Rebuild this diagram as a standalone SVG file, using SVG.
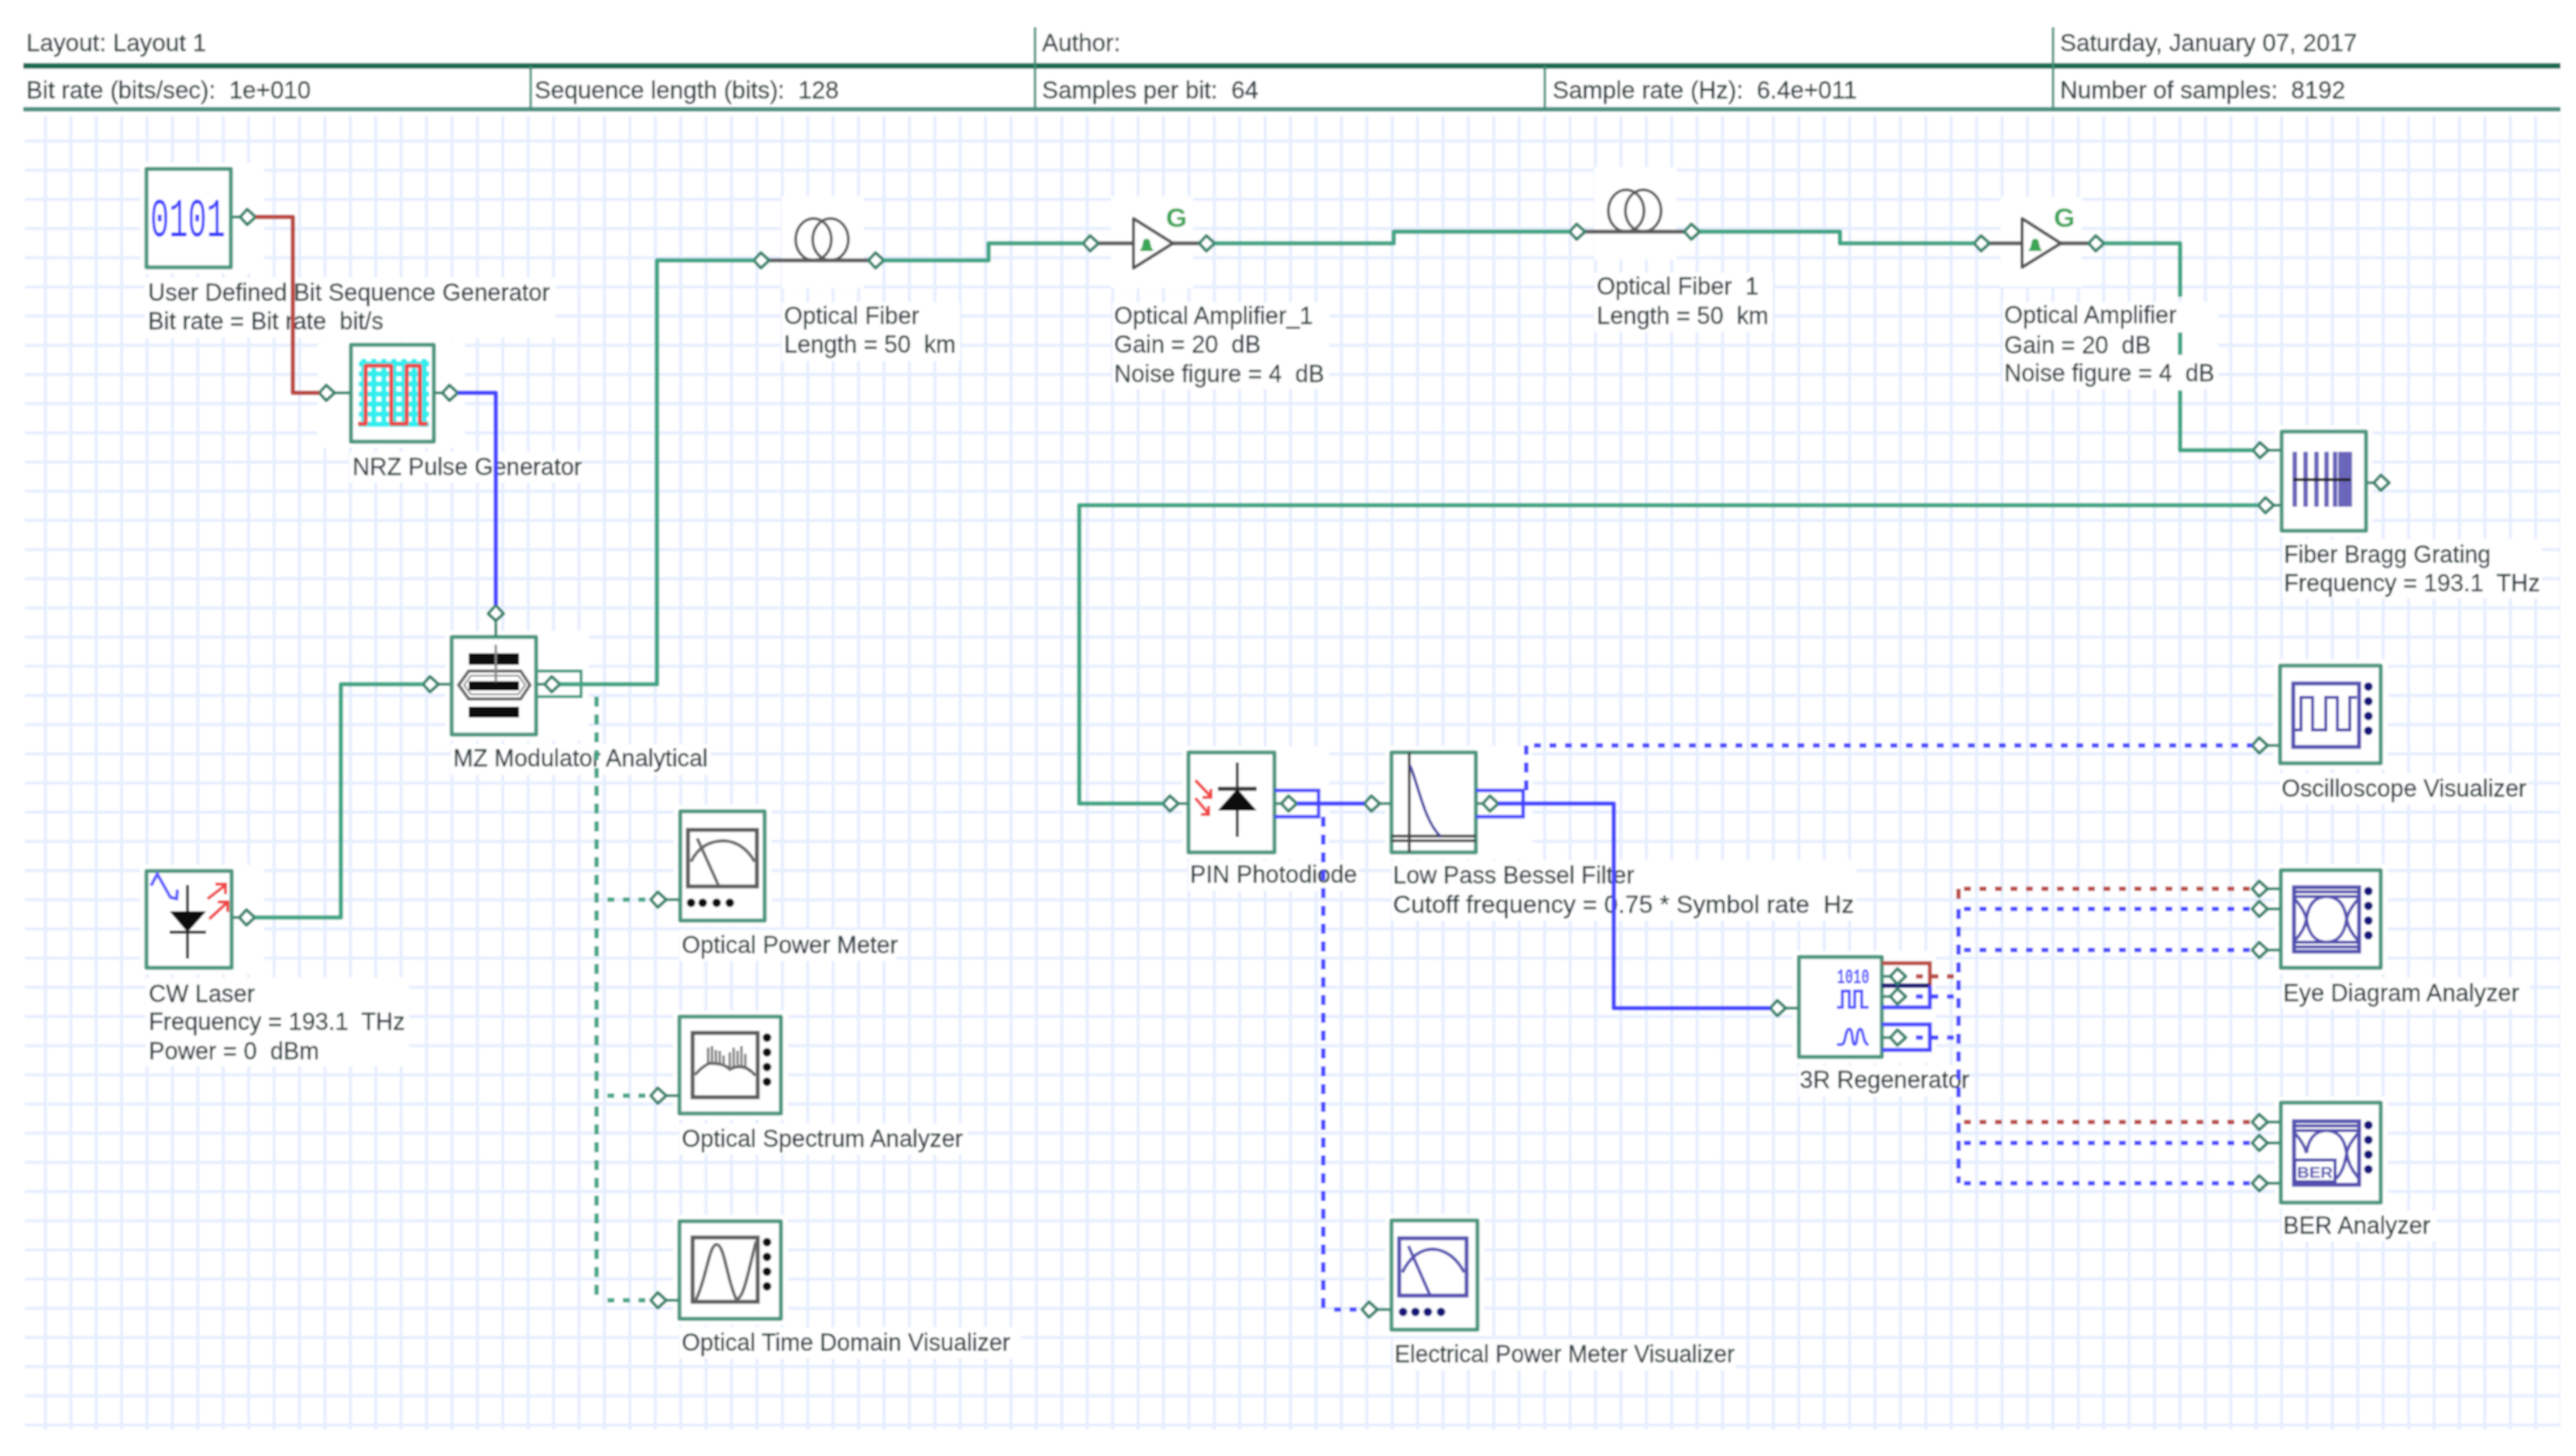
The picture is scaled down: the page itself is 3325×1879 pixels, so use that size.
<svg xmlns="http://www.w3.org/2000/svg" width="3325" height="1879" viewBox="0 0 3325 1879">
<style>
text{font-family:"Liberation Sans",Arial,sans-serif;font-size:30.8px;fill:#2c3a3c;stroke:#2c3a3c;stroke-width:.35;white-space:pre}
.h{font-size:31.4px}
.box{fill:#fff;stroke:#4a957f;stroke-width:5;stroke-linejoin:round}
.mask{fill:#fff}
.stub{stroke:#3f8f77;stroke-width:4;fill:none}
.w{fill:none;stroke-width:5.5;stroke-linejoin:round}
.g{stroke:#3fa585}.b{stroke:#4646ff}.r{stroke:#b94a45}
.dh{stroke-dasharray:9 11}.dv{stroke-dasharray:13 10}
.port{fill:#fff;stroke:#35836a;stroke-width:4;stroke-linejoin:round}
.scr{fill:#fff;stroke:#5a5a5a;stroke-width:5}
.blu{fill:#fff;stroke:#5250b0;stroke-width:5}
.gl{fill:none;stroke:#666;stroke-width:4}
.bl{fill:none;stroke:#5250b0;stroke-width:4}
.loop{fill:none;stroke:#555;stroke-width:3.5}
.bar{stroke:#5c5c5c;stroke-width:5}
.amp{fill:#fff;stroke:#555;stroke-width:4;stroke-linejoin:round}
.G{fill:#3aa655;stroke:none;font-size:35px;font-weight:bold}
</style>
<defs>
<filter id="soft" x="0" y="0" width="100%" height="100%"><feGaussianBlur stdDeviation="0.9"/></filter>
<pattern id="grid" patternUnits="userSpaceOnUse" x="810" y="179" width="32.8" height="37.66">
<path d="M3 0V37.66M0 3H32.8" stroke="#e6eeff" stroke-width="4" fill="none"/>
</pattern>
<pattern id="cy" patternUnits="userSpaceOnUse" x="463" y="463" width="13" height="13">
<path d="M6.5 0V13M0 6.5H13" stroke="#33eeee" stroke-width="6.5"/>
</pattern>
<polygon id="p" class="port" points="-10,0 -1,-10 10,0 -1,10"/>
<g id="dv4k"><circle cx="0" cy="0" r="5.5"/><circle cx="0" cy="19" r="5.5"/><circle cx="0" cy="38" r="5.5"/><circle cx="0" cy="57" r="5.5"/></g>
<g id="bump"><path d="M-9 8H9L6 3 4-6Q0-10-4-6L-6 3Z" fill="#3aa655"/></g>
</defs>
<g filter="url(#soft)">
<rect id="paper" width="3325" height="1879" fill="#fff"/>
<rect id="background-grid" x="32" y="150" width="3273" height="1695" fill="url(#grid)"/>

<g id="header">
<path d="M30 85H3305" stroke="#15694f" stroke-width="7"/>
<path d="M30 141H3305" stroke="#4f9484" stroke-width="6"/>
<path d="M1336 35V141M2650 35V141M685 85V141M1994 85V141" stroke="#3f8f77" stroke-width="3"/>
<text class="h" x="34" y="66">Layout: Layout 1</text>
<text class="h" x="1345" y="66">Author:</text>
<text class="h" x="2659" y="66">Saturday, January 07, 2017</text>
<text class="h" x="34" y="127">Bit rate (bits/sec):  1e+010</text>
<text class="h" x="690" y="127">Sequence length (bits):  128</text>
<text class="h" x="1345" y="127">Samples per bit:  64</text>
<text class="h" x="2004" y="127">Sample rate (Hz):  6.4e+011</text>
<text class="h" x="2659" y="127">Number of samples:  8192</text>
</g>

<g id="bit-sequence-generator">
<rect class="mask" x="181" y="210" width="160" height="143"/>
<rect class="mask" x="187" y="358" width="530" height="78"/>
<rect class="box" x="189" y="218" width="109" height="127"/>
<text x="194" y="305" style="font-family:'Liberation Mono',monospace;font-size:70px;fill:#3a3aff;stroke:none" textLength="97" lengthAdjust="spacingAndGlyphs">0101</text>
<path class="stub" d="M298 280H312"/><use href="#p" x="320" y="280"/>
<text x="191" y="388">User Defined Bit Sequence Generator</text>
<text x="191" y="425">Bit rate = Bit rate  bit/s</text>
</g>

<g id="nrz-pulse-generator">
<rect class="mask" x="410" y="437" width="190" height="141"/>
<rect class="mask" x="451" y="583" width="300" height="40"/>
<rect class="box" x="453" y="445" width="107" height="125"/>
<rect x="463" y="463" width="91" height="88" fill="url(#cy)"/>
<path d="M462 547H472V472H505V547H525V472H542V547H552" fill="none" stroke="#f04545" stroke-width="5" stroke-linejoin="round"/>
<path class="stub" d="M432 507H453M560 507H572"/><use href="#p" x="422" y="507"/><use href="#p" x="581" y="507"/>
<text x="455" y="613">NRZ Pulse Generator</text>
</g>

<g id="mz-modulator">
<rect class="mask" x="575" y="814" width="185" height="142"/>
<rect class="mask" x="582" y="960" width="335" height="40"/>
<rect class="box" x="583" y="822" width="109" height="126"/>
<rect x="605" y="843" width="65" height="15" fill="#111"/>
<rect x="605" y="879" width="65" height="12" fill="#111"/>
<rect x="605" y="912" width="65" height="14" fill="#111"/>
<path d="M592 884L605 866H672L684 884L672 902H605Z" class="gl"/>
<path d="M599 884L608 872H669L678 884L669 896H608Z" fill="none" stroke="#777" stroke-width="2"/>
<path d="M640 832V880" stroke="#888" stroke-width="3"/>
<path class="stub" d="M640 800V822M565 883H583M692 883H704"/>
<path d="M692 866H750V899H692" fill="none" stroke="#4a9f86" stroke-width="4"/>
<use href="#p" x="556" y="883"/><use href="#p" x="713" y="883"/>
<use href="#p" transform="translate(640 791) rotate(-90)"/>
<text x="585" y="989">MZ Modulator Analytical</text>
</g>

<g id="cw-laser">
<rect class="mask" x="181" y="1116" width="160" height="141"/>
<rect class="mask" x="188" y="1262" width="340" height="114"/>
<rect class="box" x="189" y="1124" width="110" height="125"/>
<path d="M242 1142V1237" stroke="#333" stroke-width="4"/>
<path d="M219 1176H266L242 1203Z" fill="#111"/>
<path d="M219 1203H266" stroke="#333" stroke-width="4"/>
<path d="M195 1143L203 1128L220 1158L228 1160L229 1148" fill="none" stroke="#5a5aff" stroke-width="4"/>
<path d="M268 1160L290 1143M278 1141H291V1154M270 1186L293 1165M281 1164H294V1177" fill="none" stroke="#f04545" stroke-width="4"/>
<path class="stub" d="M299 1184H310"/><use href="#p" x="319" y="1184"/>
<text x="192" y="1293">CW Laser</text>
<text x="192" y="1329">Frequency = 193.1  THz</text>
<text x="192" y="1367">Power = 0  dBm</text>
</g>

<g id="optical-power-meter">
<rect class="mask" x="870" y="1039" width="126" height="157"/>
<rect class="mask" x="877" y="1200" width="280" height="40"/>
<rect class="box" x="878" y="1047" width="109" height="141"/>
<rect class="scr" x="888" y="1071" width="89" height="73"/>
<path class="gl" d="M892 1112Q905 1085 935 1085Q960 1087 974 1112M900 1082L928 1144"/>
<g fill="#111"><circle cx="892" cy="1165" r="5.5"/><circle cx="907" cy="1165" r="5.5"/><circle cx="925" cy="1165" r="5.5"/><circle cx="942" cy="1165" r="5.5"/></g>
<path class="stub" d="M858 1161H878"/><use href="#p" x="850" y="1161"/>
<text x="880" y="1230">Optical Power Meter</text>
</g>

<g id="optical-spectrum-analyzer">
<rect class="mask" x="869" y="1304" width="148" height="141"/>
<rect class="mask" x="877" y="1450" width="372" height="40"/>
<rect class="box" x="877" y="1312" width="131" height="125"/>
<rect class="scr" x="894" y="1333" width="84" height="83"/>
<path class="gl" d="M897 1387Q908 1375 916 1372Q935 1372 942 1380Q960 1370 975 1388"/>
<path d="M914 1372V1352M919 1372V1350M924 1372V1355M929 1374V1356M934 1376V1362M942 1380V1358M947 1376V1352M952 1374V1356M957 1376V1350M962 1378V1360" stroke="#777" stroke-width="3"/>
<use href="#dv4k" x="990" y="1339" fill="#111"/>
<path class="stub" d="M858 1414H877"/><use href="#p" x="850" y="1414"/>
<text x="880" y="1480">Optical Spectrum Analyzer</text>
</g>

<g id="optical-time-domain-visualizer">
<rect class="mask" x="869" y="1568" width="148" height="142"/>
<rect class="mask" x="877" y="1713" width="440" height="40"/>
<rect class="box" x="877" y="1576" width="131" height="126"/>
<rect class="scr" x="894" y="1597" width="84" height="83"/>
<path class="gl" d="M898 1678C912 1650 915 1606 925 1606C935 1606 938 1650 950 1676C960 1680 968 1630 976 1602"/>
<use href="#dv4k" x="990" y="1603" fill="#111"/>
<path class="stub" d="M858 1678H877"/><use href="#p" x="850" y="1678"/>
<text x="880" y="1743" textLength="424" lengthAdjust="spacingAndGlyphs">Optical Time Domain Visualizer</text>
</g>

<g id="optical-fiber">
<rect class="mask" x="1009" y="253" width="106" height="119"/>
<rect class="mask" x="1009" y="390" width="230" height="76"/>
<ellipse class="loop" cx="1050" cy="309" rx="23" ry="27"/>
<ellipse class="loop" cx="1072" cy="309" rx="23" ry="27"/>
<path class="bar" d="M992 336H1122"/>
<use href="#p" x="983" y="336"/><use href="#p" x="1131" y="336"/>
<text x="1012" y="418">Optical Fiber</text>
<text x="1012" y="455">Length = 50  km</text>
</g>

<g id="optical-amplifier-1">
<rect class="mask" x="1434" y="253" width="106" height="119"/>
<rect class="mask" x="1436" y="390" width="280" height="112"/>
<path class="bar" d="M1417 314H1549"/>
<path class="amp" d="M1463 282V346L1514 314Z"/>
<use href="#bump" x="1480" y="316"/>
<text class="G" x="1505" y="293">G</text>
<use href="#p" x="1408" y="314"/><use href="#p" x="1558" y="314"/>
<text x="1438" y="418">Optical Amplifier_1</text>
<text x="1438" y="455">Gain = 20  dB</text>
<text x="1438" y="493">Noise figure = 4  dB</text>
</g>

<g id="optical-fiber-1">
<rect class="mask" x="2058" y="216" width="106" height="119"/>
<rect class="mask" x="2058" y="352" width="230" height="76"/>
<ellipse class="loop" cx="2099" cy="272" rx="23" ry="27"/>
<ellipse class="loop" cx="2121" cy="272" rx="23" ry="27"/>
<path class="bar" d="M2045 299H2175"/>
<use href="#p" x="2036" y="299"/><use href="#p" x="2184" y="299"/>
<text x="2061" y="380">Optical Fiber  1</text>
<text x="2061" y="418">Length = 50  km</text>
</g>

<g id="optical-amplifier">
<rect class="mask" x="2582" y="254" width="105" height="116"/>
<rect class="mask" x="2585" y="390" width="278" height="112"/>
<path class="bar" d="M2567 314H2697"/>
<path class="amp" d="M2610 282V345L2660 314Z"/>
<use href="#bump" x="2627" y="316"/>
<text class="G" x="2651" y="293">G</text>
<use href="#p" x="2558" y="314"/><use href="#p" x="2706" y="314"/>
<text x="2587" y="417">Optical Amplifier</text>
<text x="2587" y="456">Gain = 20  dB</text>
<text x="2587" y="492">Noise figure = 4  dB</text>
</g>

<g id="fiber-bragg-grating">
<rect class="mask" x="2937" y="549" width="125" height="144"/>
<rect class="mask" x="2946" y="696" width="335" height="76"/>
<rect class="box" x="2945" y="557" width="109" height="128"/>
<path d="M2962 583V654M2976 583V654M2990 583V654M3003 583V654M3014 583V654M3021 583V654M3027 583V654M3033 583V654" stroke="#6a66bb" stroke-width="6"/>
<path d="M2960 619H3034" stroke="#222" stroke-width="4"/>
<path class="stub" d="M2927 581H2945M2934 652H2945M3054 623H3065"/>
<use href="#p" x="2918" y="581"/><use href="#p" x="2925" y="652"/><use href="#p" x="3074" y="623"/>
<text x="2948" y="726" textLength="267" lengthAdjust="spacingAndGlyphs">Fiber Bragg Grating</text>
<text x="2948" y="763">Frequency = 193.1  THz</text>
</g>

<g id="oscilloscope-visualizer">
<rect class="mask" x="2935" y="851" width="147" height="142"/>
<rect class="mask" x="2943" y="998" width="320" height="40"/>
<rect class="box" x="2943" y="859" width="130" height="126"/>
<rect class="blu" x="2960" y="882" width="85" height="82"/>
<path class="bl" d="M2962 942H2970V900H2985V942H3002V900H3017V942H3033V900H3042" stroke-width="5"/>
<use href="#dv4k" x="3057" y="886" fill="#14147a"/>
<path class="stub" d="M2926 962H2943"/><use href="#p" x="2917" y="962"/>
<text x="2945" y="1028">Oscilloscope Visualizer</text>
</g>

<g id="eye-diagram-analyzer">
<rect class="mask" x="2936" y="1115" width="146" height="142"/>
<rect class="mask" x="2945" y="1262" width="320" height="40"/>
<rect class="box" x="2944" y="1123" width="129" height="126"/>
<rect class="blu" x="2961" y="1145" width="84" height="83"/>
<path class="bl" d="M2963 1151H3043M2963 1157H3043M2963 1216H3043M2963 1222H3043"/>
<path class="bl" d="M2962 1160Q2975 1175 2977 1186Q2975 1200 2962 1214M3044 1160Q3031 1175 3029 1186Q3031 1200 3044 1214"/>
<path class="bl" d="M2977 1186C2980 1165 2990 1157 3003 1157C3016 1157 3026 1165 3029 1186C3026 1207 3016 1216 3003 1216C2990 1216 2980 1207 2977 1186Z"/>
<use href="#dv4k" x="3057" y="1150" fill="#14147a"/>
<path class="stub" d="M2926 1147H2944M2926 1173H2944M2926 1226H2944"/>
<use href="#p" x="2917" y="1147"/><use href="#p" x="2917" y="1173"/><use href="#p" x="2917" y="1226"/>
<text x="2947" y="1292">Eye Diagram Analyzer</text>
</g>

<g id="ber-analyzer">
<rect class="mask" x="2936" y="1415" width="146" height="145"/>
<rect class="mask" x="2945" y="1562" width="200" height="40"/>
<rect class="box" x="2944" y="1423" width="129" height="129"/>
<rect class="blu" x="2961" y="1447" width="84" height="82"/>
<path class="bl" d="M2963 1453H3043M2963 1459H3043"/>
<path class="bl" d="M2962 1462Q2975 1477 2977 1488M3044 1462Q3031 1477 3029 1488Q3031 1505 3044 1520M2977 1488C2980 1468 2990 1459 3003 1459C3016 1459 3026 1468 3029 1488C3026 1508 3020 1520 3010 1524"/>
<rect class="blu" x="2962" y="1497" width="52" height="28" style="stroke-width:4"/>
<text x="2965" y="1520" style="font-size:20px;fill:#5250b0;stroke:none;font-weight:bold" textLength="46" lengthAdjust="spacingAndGlyphs">BER</text>
<use href="#dv4k" x="3057" y="1452" fill="#14147a"/>
<path class="stub" d="M2926 1448H2944M2926 1475H2944M2926 1527H2944"/>
<use href="#p" x="2917" y="1448"/><use href="#p" x="2917" y="1475"/><use href="#p" x="2917" y="1527"/>
<text x="2947" y="1592">BER Analyzer</text>
</g>

<g id="pin-photodiode">
<rect class="mask" x="1526" y="963" width="190" height="145"/>
<rect class="mask" x="1534" y="1110" width="220" height="40"/>
<rect class="box" x="1534" y="971" width="111" height="129"/>
<path d="M1597 984V1080" stroke="#444" stroke-width="4"/>
<path d="M1572 1018H1622" stroke="#333" stroke-width="5"/>
<path d="M1597 1018L1622 1046H1572Z" fill="#111"/>
<path d="M1543 1007L1563 1028M1563 1018V1029H1552M1543 1030L1560 1050M1560 1040V1051H1550" fill="none" stroke="#f04545" stroke-width="4"/>
<path class="stub" d="M1520 1037H1534M1645 1037H1655"/>
<path d="M1645 1020H1702V1054H1645" fill="none" stroke="#4646ff" stroke-width="4.5"/>
<use href="#p" x="1511" y="1037"/><use href="#p" x="1664" y="1037"/>
<text x="1536" y="1139">PIN Photodiode</text>
</g>

<g id="low-pass-bessel-filter">
<rect class="mask" x="1788" y="963" width="190" height="145"/>
<rect class="mask" x="1796" y="1110" width="600" height="78"/>
<rect class="box" x="1796" y="971" width="109" height="129"/>
<path d="M1819 971V1100M1796 1079H1905M1796 1085H1905" stroke="#444" stroke-width="3.5" fill="none"/>
<path d="M1820 988C1830 1010 1838 1060 1860 1080" fill="none" stroke="#4040a0" stroke-width="3.5"/>
<path class="stub" d="M1780 1037H1796M1905 1037H1915"/>
<path d="M1905 1020H1966V1054H1905" fill="none" stroke="#4646ff" stroke-width="4.5"/>
<use href="#p" x="1771" y="1037"/><use href="#p" x="1924" y="1037"/>
<text x="1798" y="1140">Low Pass Bessel Filter</text>
<text x="1798" y="1178" textLength="595" lengthAdjust="spacingAndGlyphs">Cutoff frequency = 0.75 * Symbol rate  Hz</text>
</g>

<g id="regenerator-3r">
<rect class="mask" x="2314" y="1227" width="185" height="145"/>
<rect class="mask" x="2321" y="1375" width="220" height="40"/>
<rect class="box" x="2322" y="1235" width="107" height="129"/>
<text x="2371" y="1269" style="font-family:'Liberation Mono',monospace;font-size:28px;font-weight:bold;fill:#4646ff;stroke:none" textLength="42" lengthAdjust="spacingAndGlyphs">1010</text>
<path d="M2371 1300H2378V1279H2387V1300H2394V1279H2403V1300H2412" fill="none" stroke="#4646ff" stroke-width="3.5"/>
<path d="M2371 1348H2377C2383 1348 2381 1328 2387 1328C2392 1328 2390 1348 2394 1348C2398 1348 2396 1328 2401 1328C2406 1328 2404 1348 2412 1348" fill="none" stroke="#4646ff" stroke-width="3.5"/>
<path class="stub" d="M2304 1301H2322M2429 1260H2441M2429 1286H2441M2429 1339H2441"/>
<path d="M2429 1243H2491V1272" fill="none" stroke="#b94a45" stroke-width="5"/>
<path d="M2429 1272H2491" stroke="#22227a" stroke-width="6"/>
<path d="M2491 1272V1300H2429" fill="none" stroke="#4646ff" stroke-width="5"/>
<path d="M2429 1322H2491V1355H2429" fill="none" stroke="#4646ff" stroke-width="5"/>
<use href="#p" x="2295" y="1301"/><use href="#p" x="2450" y="1260"/><use href="#p" x="2450" y="1286"/><use href="#p" x="2450" y="1339"/>
<text x="2323" y="1404">3R Regenerator</text>
</g>

<g id="electrical-power-meter-visualizer">
<rect class="mask" x="1788" y="1567" width="128" height="157"/>
<rect class="mask" x="1798" y="1728" width="442" height="40"/>
<rect class="box" x="1796" y="1575" width="111" height="141"/>
<rect class="blu" x="1806" y="1598" width="87" height="74"/>
<path class="bl" d="M1810 1642Q1825 1612 1850 1612Q1875 1614 1890 1642M1818 1608L1846 1672"/>
<g fill="#14147a"><circle cx="1811" cy="1693" r="5.5"/><circle cx="1827" cy="1693" r="5.5"/><circle cx="1843" cy="1693" r="5.5"/><circle cx="1860" cy="1693" r="5.5"/></g>
<path class="stub" d="M1777 1690H1796"/><use href="#p" x="1768" y="1690"/>
<text x="1800" y="1758" textLength="439" lengthAdjust="spacingAndGlyphs">Electrical Power Meter Visualizer</text>
</g>

<g id="connectors">
<path class="w r" d="M330 280H378V507H412"/>
<path class="w b" d="M591 507H640V781"/>
<path class="w g" d="M329 1184H440V883H546"/>
<path class="w g" d="M723 883H848V336H973"/>
<path class="w g" d="M1141 336H1276V314H1398"/>
<path class="w g" d="M1568 314H1799V299H2026"/>
<path class="w g" d="M2194 299H2375V314H2548"/>
<path class="w g" d="M2716 314H2814V383M2814 429V458M2814 504V581H2908"/>
<path class="w g" d="M2915 652H1393V1037H1501"/>
<path class="w b" d="M1674 1037H1761"/>
<path class="w b" d="M1934 1037H2083V1301H2285"/>
<path class="w g dv" d="M770 899V1678"/>
<path class="w g dh" d="M784 1161H840"/>
<path class="w g dh" d="M784 1414H840"/>
<path class="w g dh" d="M784 1678H840"/>
<path class="w b dv" d="M1708 1054V1690"/>
<path class="w b dh" d="M1722 1690H1758"/>
<path class="w b dv" d="M1970 1020V962"/>
<path class="w b dh" d="M1980 962H2907"/>
<path class="w b dv" d="M2528 1173V1527"/>
<path class="w r dv" d="M2528 1147V1170"/>
<path class="w r dh" d="M2473 1260H2528"/>
<path class="w b dh" d="M2473 1286H2528"/>
<path class="w b dh" d="M2473 1339H2528"/>
<path class="w r dh" d="M2535 1147H2907"/>
<path class="w b dh" d="M2535 1173H2907"/>
<path class="w b dh" d="M2535 1226H2907"/>
<path class="w r dh" d="M2535 1448H2907"/>
<path class="w b dh" d="M2535 1475H2907"/>
<path class="w b dh" d="M2535 1527H2907"/>
</g>
</g>
</svg>
